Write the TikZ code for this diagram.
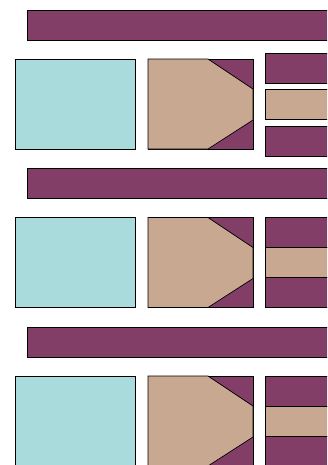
\documentclass[tikz,border=0pt]{standalone}
\usepackage{tikz}
\definecolor{PlumBar}{HTML}{833E68}
\definecolor{SandBox}{HTML}{C9A891}
\definecolor{AquaBox}{HTML}{A9DBDD}
\tikzset{
  plumfill/.style={fill=PlumBar,draw=black,line width=0.6pt},
  sandfill/.style={fill=SandBox,draw=black,line width=0.6pt},
  aquafill/.style={fill=AquaBox,draw=black,line width=0.6pt}
}
\begin{document}
\begin{tikzpicture}[x=0.3mm,y=-0.3mm]
      \useasboundingbox (0,0) rectangle (327,465);
      \clip (0,0) rectangle (327,465);
      \foreach \o in {0,158.5,317}
      {
      \filldraw[plumfill] (27,10+\o) rectangle (340,40+\o);
      \filldraw[aquafill] (15,59+\o) rectangle (135,149+\o);
      \filldraw[plumfill] (148,59+\o) rectangle (253,149+\o);
      \filldraw[sandfill] (148,59+\o) -- (208,59+\o) -- (253,89+\o)
        -- (253,120+\o) -- (208,149+\o) -- (148,149+\o) -- cycle;
      }
      % side strips, first row apart
      \foreach \top/\bot/\sty in {53/83/plumfill,89/119/sandfill,126/156/plumfill}
      \filldraw[\sty] (265,\top) rectangle (340,\bot);
      \foreach \o in {158.5,317}
      {
      \filldraw[plumfill] (265,59+\o) rectangle (340,89+\o);
      \filldraw[sandfill] (265,89+\o) rectangle (340,119+\o);
      \filldraw[plumfill] (265,119+\o) rectangle (340,149+\o);
      }
    \end{tikzpicture}
\end{document}
